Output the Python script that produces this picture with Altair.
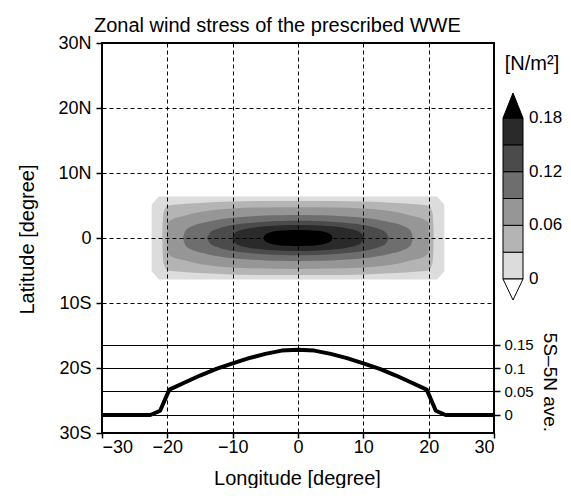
import altair as alt
import pandas as pd

FONT = "Liberation Sans"

# ---- axes / scale values ----
lon_ticks = [-30, -20, -10, 0, 10, 20, 30]
lat_ticks = [-30, -20, -10, 0, 10, 20, 30]
ave_ticks = [0, 0.05, 0.1, 0.15]
thresholds = [0, 0.03, 0.06, 0.09, 0.12, 0.15, 0.18]
bar_labels = [0, 0.06, 0.12, 0.18]
shades = ["#ffffff", "#dcdcdc", "#b4b4b4", "#969696", "#6e6e6e",
          "#4b4b4b", "#2a2a2a", "#000000"]

# ---- contour outlines (lon, half-width in lat) ----
c0_lon = [-22.4, -21.3, 21.3, 22.4]
c0_h = [5.1, 6.4, 6.4, 5.1]

c1_lon = [-20.75, -20.65, -20.45, -20.0, -18.0, -15.0, -10.0, -5.0, 0.0,
          5.0, 10.0, 15.0, 18.0, 20.0, 20.45, 20.65, 20.75]
c1_h = [1.5, 3.3, 4.3, 4.95, 5.2, 5.4, 5.6, 5.7, 5.7,
        5.7, 5.6, 5.4, 5.2, 4.95, 4.3, 3.3, 1.5]

c2_lon = [-20.0, -19.5, -17.5, -15.0, -12.5, -10.0, -5.0, 0.0,
          5.0, 10.0, 12.5, 15.0, 17.5, 19.5, 20.0]
c2_h = [2.3, 2.75, 3.4, 4.0, 4.35, 4.55, 4.7, 4.75,
        4.7, 4.55, 4.35, 4.0, 3.4, 2.75, 2.3]

c3_lon = [-17.6, -17.2, -16.0, -14.0, -12.0, -10.0, -7.5, -5.0, -2.5, 0.0,
          2.5, 5.0, 7.5, 10.0, 12.0, 14.0, 16.0, 17.2, 17.6]
c3_h = [0.0, 1.2, 1.9, 2.45, 2.85, 3.1, 3.3, 3.45, 3.5, 3.55,
        3.5, 3.45, 3.3, 3.1, 2.85, 2.45, 1.9, 1.2, 0.0]

c4_lon = [-13.9, -13.4, -12.5, -11.0, -10.0, -7.5, -5.0, -2.5, 0.0,
          2.5, 5.0, 7.5, 10.0, 11.0, 12.5, 13.4, 13.9]
c4_h = [0.0, 0.9, 1.35, 1.8, 2.0, 2.3, 2.5, 2.6, 2.65,
        2.6, 2.5, 2.3, 2.0, 1.8, 1.35, 0.9, 0.0]

c5_lon = [-10.1, -9.6, -9.0, -7.5, -5.0, -2.5, 0.0, 2.5, 5.0, 7.5, 9.0, 9.6, 10.1]
c5_h = [0.0, 0.8, 1.1, 1.5, 1.8, 1.95, 2.0, 1.95, 1.8, 1.5, 1.1, 0.8, 0.0]

c6_lon = [-5.3, -5.0, -4.3, -3.0, -1.5, 0.0, 1.5, 3.0, 4.3, 5.0, 5.3]
c6_h = [0.0, 0.55, 0.85, 1.1, 1.2, 1.25, 1.2, 1.1, 0.85, 0.55, 0.0]

contour_vals = [0.015, 0.045, 0.075, 0.105, 0.135, 0.165, 0.2]
contour_lons = [c0_lon, c1_lon, c2_lon, c3_lon, c4_lon, c5_lon, c6_lon]
contour_hs = [c0_h, c1_h, c2_h, c3_h, c4_h, c5_h, c6_h]
contour_interp = ["linear"] + ["monotone"] * 6

# ---- 5S-5N average profile ----
ave_lon = [-30, -22.6, -21.1, -19.7, -17.5, -15, -12.5, -10, -7.5, -5, -2.5, 0,
           2.5, 5, 7.5, 10, 12.5, 15, 17.5, 19.7, 21.1, 22.6, 30]
ave_val = [0, 0, 0.009, 0.054, 0.068, 0.084, 0.098, 0.110, 0.121, 0.130, 0.137, 0.139,
           0.137, 0.130, 0.121, 0.110, 0.098, 0.084, 0.068, 0.054, 0.009, 0, 0]

x_enc = alt.X(
    "lon:Q",
    scale=alt.Scale(domain=[-30, 30], nice=False, zero=False),
    axis=alt.Axis(
        values=lon_ticks, title="Longitude [degree]", grid=True,
        gridDash=[4, 3], gridColor="black", gridWidth=1, gridOpacity=1,
        domain=False, tickSize=5, tickColor="black", tickWidth=1.5,
        labelPadding=0, labelFontSize=18, labelFont=FONT, labelColor="black",
        titleFontSize=20, titleFont=FONT, titleFontWeight="normal", titleColor="black",
        titleX=195, titleY=51, titleBaseline="alphabetic", titleAlign="center",
        zindex=1,
    ),
)

y_enc = alt.Y(
    "lo:Q",
    scale=alt.Scale(domain=[-30, 30], nice=False, zero=False),
    axis=alt.Axis(
        values=lat_ticks,
        labelExpr="datum.value > 0 ? datum.value + 'N' : (datum.value < 0 ? (-datum.value) + 'S' : '0')",
        title="Latitude [degree]", grid=True,
        gridDash=[4, 3], gridColor="black", gridWidth=1, gridOpacity=1,
        domain=False, tickSize=6, tickColor="black", tickWidth=1.5,
        labelPadding=5, labelFontSize=18, labelFont=FONT, labelColor="black",
        titleFontSize=20, titleFont=FONT, titleFontWeight="normal", titleColor="black",
        titleX=-69, titleY=196, titleAngle=-90, titleBaseline="alphabetic", titleAlign="center",
        zindex=1,
    ),
)

color_enc = alt.Color(
    "val:Q",
    scale=alt.Scale(type="threshold", domain=thresholds, range=shades),
    legend=None,
)

layers = []
for lon, h, val, interp in zip(contour_lons, contour_hs, contour_vals, contour_interp):
    df = pd.DataFrame({"lon": lon, "lo": [-v for v in h], "hi": h, "val": val})
    layers.append(
        alt.Chart(df).mark_area(interpolate=interp).encode(
            x=x_enc, y=y_enc, y2="hi:Q", color=color_enc
        )
    )

line_df = pd.DataFrame({"lon": ave_lon, "ave": ave_val})
line = alt.Chart(line_df).mark_line(
    color="black", strokeWidth=4, clip=True, strokeJoin="round"
).encode(
    x=x_enc,
    y=alt.Y(
        "ave:Q",
        scale=alt.Scale(domain=[-0.0383, 0.7915], nice=False, zero=False),
        axis=alt.Axis(
            orient="right", values=ave_ticks, format=".2~f", grid=True,
            gridDash=[], gridColor="black", gridWidth=1, gridOpacity=1,
            domain=False, tickSize=6, tickColor="black", tickWidth=1.5,
            labelPadding=4, labelFontSize=15, labelFont=FONT, labelColor="black",
            labelBaseline="middle",
            title="5S–5N ave.", titleFontSize=19, titleFont=FONT,
            titleFontWeight="normal", titleColor="black",
            titleX=49, titleY=339, titleAngle=90, titleBaseline="alphabetic",
            titleAlign="center",
        ),
    ),
)

# ---- colour bar (drawn with marks on its own value scale) ----
cb_scale = alt.Scale(domain=[-0.17217, 0.26386], nice=False, zero=False)
cb_df = pd.DataFrame({
    "lo": thresholds[:-1],
    "hi": thresholds[1:],
    "fill": shades[1:-1],
})
cb_rect = alt.Chart(cb_df).mark_rect(stroke="black", strokeWidth=1).encode(
    x=alt.value(401), x2=alt.value(421),
    y=alt.Y("lo:Q", scale=cb_scale, axis=None), y2="hi:Q",
    fill=alt.Fill("fill:N", scale=None),
)
tri_df = pd.DataFrame({
    "v": [thresholds[-1], thresholds[0]],
    "fill": [shades[-1], shades[0]],
    "shape": ["M-1,0L1,0L0,-2.5Z", "M-1,0L1,0L0,2.1Z"],
})
cb_tri = alt.Chart(tri_df).mark_point(
    filled=True, stroke="black", strokeWidth=1, size=400, opacity=1
).encode(
    x=alt.value(411),
    y=alt.Y("v:Q", scale=cb_scale, axis=None),
    fill=alt.Fill("fill:N", scale=None),
    shape=alt.Shape("shape:N", scale=None),
)
lab_df = pd.DataFrame({"v": bar_labels})
cb_lab = alt.Chart(lab_df).mark_text(
    align="left", baseline="middle", font=FONT, fontSize=17, color="black"
).encode(
    x=alt.value(427),
    y=alt.Y("v:Q", scale=cb_scale, axis=None),
    text=alt.Text("v:Q", format=".2~f"),
)
cb_title = alt.Chart(pd.DataFrame({"t": ["[N/m²]"]})).mark_text(
    align="center", baseline="middle", font=FONT, fontSize=20, color="black"
).encode(x=alt.value(430), y=alt.value(21), text="t:N")

colorbar = alt.layer(cb_rect, cb_tri, cb_lab, cb_title)

chart = (
    alt.layer(alt.layer(*layers), line, colorbar)
    .resolve_scale(y="independent")
    .properties(
        width=392,
        height=390,
        title=alt.TitleParams(
            text="Zonal wind stress of the prescribed WWE",
            anchor="start", frame="group", dx=-8, dy=20, offset=2,
            baseline="alphabetic", fontSize=20, font=FONT,
            fontWeight="normal", color="black",
        ),
        padding={"left": 94, "top": 35, "right": 69, "bottom": 55},
        autosize=alt.AutoSizeParams(type="none"),
    )
    .configure_view(stroke="black", strokeWidth=2)
)

chart.save("out.html", embed_options={"renderer": "svg", "actions": False})
